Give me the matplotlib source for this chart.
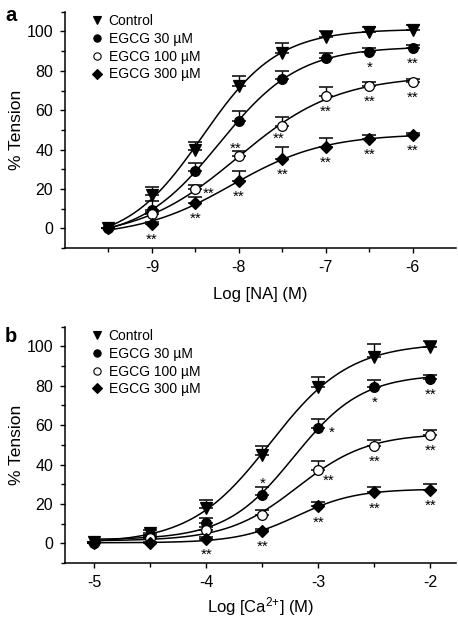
"""
Concentration-response curves of tension with EGCG (panels a and b).
"""

import numpy as np
import matplotlib
matplotlib.use("Agg")
import matplotlib.pyplot as plt
from matplotlib.ticker import MultipleLocator, FixedLocator
from matplotlib.lines import Line2D

plt.rcParams["font.family"] = ["Liberation Sans", "DejaVu Sans"]
plt.rcParams["axes.unicode_minus"] = False
plt.rcParams["mathtext.default"] = "regular"

# ---------------------------------------------------------------------------
# Data
# ---------------------------------------------------------------------------

LABELS = ["Control", "EGCG 30 \u00b5M", "EGCG 100 \u00b5M", "EGCG 300 \u00b5M"]

# panel a : Log [NA]
A_X = [-9.5, -9, -8.5, -8, -7.5, -7, -6.5, -6]
A_CTRL = [0, 17, 39.8, 72.3, 89.3, 97.4, 99.5, 100.8]
A_E30 = [0, 9.3, 29.3, 54.5, 75.7, 86.4, 89.8, 91.5]
A_E100 = [0, 7.3, 19.8, 36.5, 52, 67.3, 72.3, 74.4]
A_E300 = [0, 2.2, 13, 24, 35.1, 41.5, 45.4, 47.4]
A_CTRL_ERR = [0, 4.2, 4.2, 5, 5, 2.6, 2.7, 2.7]
A_E30_ERR = [0, 4.7, 3.7, 5, 4.4, 2.9, 1.7, 1.7]
A_E100_ERR = [0, 1, 2.2, 2.8, 4.4, 4.7, 2, 1.4]
A_E300_ERR = [0, 1, 2.8, 5.3, 6.1, 4.2, 2.2, 1.2]
# fitted curves: bottom, top, logEC50, Hill slope
A_CTRL_FIT = [-7.38, 101.17, -8.417, 1.002]
A_E30_FIT = [-5.67, 92.32, -8.222, 0.949]
A_E100_FIT = [-5.40, 77.61, -8.011, 0.760]
A_E300_FIT = [-4.22, 48.01, -8.086, 0.817]
A_TICKS = [-9, -8, -7, -6]
A_MINOR = [-9.5, -8.5, -7.5, -6.5]
# significance marks: series index, x, text, placement
A_STARS = [
    (1, -6.5, "*", "below"), (1, -6, "**", "below"),
    (2, -8.5, "**", "right"), (2, -8, "**", "above"), (2, -7.5, "**", "belowleft"),
    (2, -7, "**", "below"), (2, -6.5, "**", "below"), (2, -6, "**", "below"),
    (3, -9, "**", "below"), (3, -8.5, "**", "below"), (3, -8, "**", "below"),
    (3, -7.5, "**", "below"), (3, -7, "**", "below"), (3, -6.5, "**", "below"),
    (3, -6, "**", "below"),
]

# panel b : Log [Ca2+]
B_X = [-5, -4.5, -4, -3.5, -3, -2.5, -2]
B_CTRL = [0.5, 5.1, 17.9, 44.7, 79.4, 94.7, 99.8]
B_E30 = [0.3, 3.4, 10.2, 24.3, 58.7, 79.4, 83.7]
B_E100 = [0, 2.5, 6.8, 14.4, 37.4, 49.6, 54.9]
B_E300 = [0, 0.3, 2, 6.4, 18.7, 25.8, 27.2]
B_CTRL_ERR = [0, 1.7, 4.2, 4.6, 5.3, 6.5, 2.8]
B_E30_ERR = [0, 1, 2.6, 4.1, 4.2, 3.4, 1.8]
B_E100_ERR = [0, 0.8, 1.5, 2.6, 4.2, 3.1, 2.5]
B_E300_ERR = [0, 0.5, 1, 1, 2.5, 2.8, 2.9]
B_CTRL_FIT = [-0.02, 101.78, -3.430, 1.224]
B_E30_FIT = [1.83, 85.89, -3.219, 1.429]
B_E100_FIT = [1.20, 55.84, -3.186, 1.384]
B_E300_FIT = [0.25, 27.57, -3.189, 1.658]
B_TICKS = [-5, -4, -3, -2]
B_MINOR = [-4.5, -3.5, -2.5]
B_STARS = [
    (1, -3.5, "*", "abovebar"), (1, -3, "*", "right"), (1, -2.5, "*", "below"),
    (1, -2, "**", "below"),
    (2, -3, "**", "rightbelow"), (2, -2.5, "**", "below"), (2, -2, "**", "below"),
    (3, -4, "**", "below"), (3, -3.5, "**", "below"), (3, -3, "**", "below"),
    (3, -2.5, "**", "below"), (3, -2, "**", "below"),
]

# ---------------------------------------------------------------------------
# Style
# ---------------------------------------------------------------------------

MARKERS = ["v", "o", "o", "D"]
FACES = ["black", "black", "white", "black"]
SIZES = [8.5, 7, 7, 6.5]
STAR_SIZE = 11
# star glyph centre offsets in pixels (dx, dy)
STAR_POS = {
    "below": (0, -11), "right": (13, 0), "above": (-3, 13),
    "belowleft": (-4, -8), "abovebar": (0, 17), "rightbelow": (10, -6),
}
STAR_RISE = 0.58 * STAR_SIZE * 100 / 72   # asterisk sits this high above baseline


def hill(p, x):
    b, t, c, n = p
    return b + (t - b) / (1 + 10 ** (n * (c - x)))


def draw_panel(ax, xs, means, errs, fits, stars, xlim, xticks, xminor,
               xlabel, xlabelpad, letter, letter_y):
    xs = np.array(xs)
    xx = np.linspace(xs.min(), xs.max(), 300)
    for i in range(4):
        ax.plot(xx, hill(fits[i], xx), color="black", lw=1.1, zorder=1)
        ax.errorbar(xs, means[i], yerr=[np.zeros(len(xs)), errs[i]], fmt="none",
                    ecolor="black", elinewidth=1.0, capsize=5, capthick=1.1,
                    zorder=2)
        ax.plot(xs, means[i], linestyle="none", marker=MARKERS[i],
                markersize=SIZES[i], markerfacecolor=FACES[i],
                markeredgecolor="black", markeredgewidth=0.9, zorder=3)

    for idx, x, txt, pos in stars:
        y = means[idx][list(xs).index(x)]
        dx, dy = STAR_POS[pos]
        ax.annotate(txt, (x, y), xytext=(dx, dy - STAR_RISE),
                    textcoords="offset pixels", ha="center", va="baseline",
                    fontsize=STAR_SIZE)

    handles = [Line2D([], [], linestyle="none", marker=MARKERS[i],
                      markersize=SIZES[i] * 0.75, markerfacecolor=FACES[i],
                      markeredgecolor="black", markeredgewidth=0.8)
               for i in range(4)]
    ax.legend(handles, LABELS, loc="upper left", bbox_to_anchor=(0.065, 0.99),
              frameon=False, fontsize=10, handlelength=1.0, handletextpad=0.3,
              labelspacing=0.27, borderpad=0, borderaxespad=0)

    ax.set_xlim(*xlim)
    ax.set_ylim(-10, 110)
    ax.xaxis.set_major_locator(FixedLocator(xticks))
    ax.xaxis.set_minor_locator(FixedLocator(xminor))
    ax.yaxis.set_major_locator(FixedLocator(range(0, 101, 20)))
    ax.yaxis.set_minor_locator(MultipleLocator(10))
    ax.tick_params(which="major", length=3.6, width=1.0, labelsize=11.5)
    ax.tick_params(which="minor", length=2.8, width=1.0)
    ax.tick_params(axis="x", which="major", pad=5)
    ax.tick_params(axis="y", which="major", pad=5)
    ax.spines[["top", "right"]].set_visible(False)
    ax.spines[["left", "bottom"]].set_linewidth(1.1)
    ax.set_xlabel(xlabel, fontsize=12, labelpad=xlabelpad)
    ax.set_ylabel("% Tension", fontsize=12.5, labelpad=2)
    ax.text(-0.153, letter_y, letter, transform=ax.transAxes, fontsize=14.5,
            fontweight="bold", ha="left", va="baseline")


def main() -> None:
    fig = plt.figure(figsize=(4.58, 6.2), dpi=100)
    ax_a = fig.add_axes([0.142, 0.600, 0.854, 0.381])
    ax_b = fig.add_axes([0.142, 0.092, 0.854, 0.381])

    draw_panel(ax_a, A_X,
               [A_CTRL, A_E30, A_E100, A_E300],
               [A_CTRL_ERR, A_E30_ERR, A_E100_ERR, A_E300_ERR],
               [A_CTRL_FIT, A_E30_FIT, A_E100_FIT, A_E300_FIT],
               A_STARS, (-10, -5.5), A_TICKS, A_MINOR,
               "Log [NA] (M)", 8.5, "a", 0.963)
    draw_panel(ax_b, B_X,
               [B_CTRL, B_E30, B_E100, B_E300],
               [B_CTRL_ERR, B_E30_ERR, B_E100_ERR, B_E300_ERR],
               [B_CTRL_FIT, B_E30_FIT, B_E100_FIT, B_E300_FIT],
               B_STARS, (-5.26, -1.77), B_TICKS, B_MINOR,
               r"Log [Ca$^{2{+}}$] (M)", 4, "b", 0.936)

    fig.savefig("out.png", dpi=100)
    plt.close(fig)


if __name__ == "__main__":
    main()
